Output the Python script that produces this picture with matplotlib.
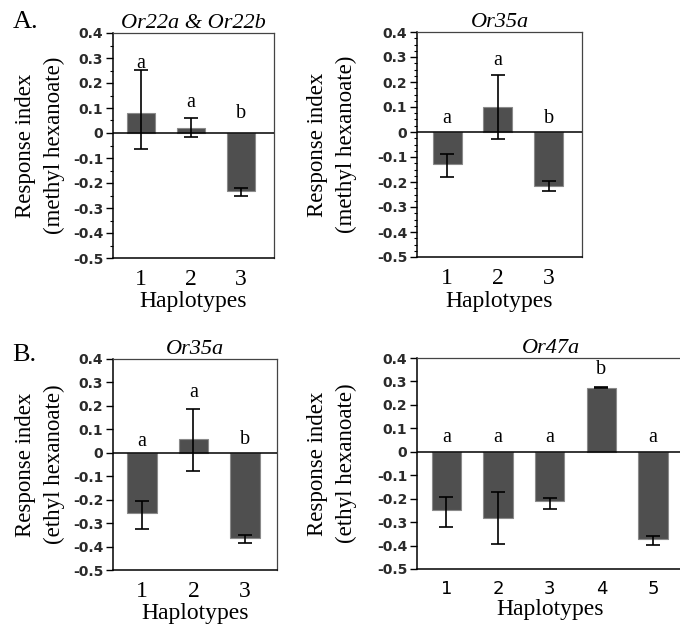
import numpy as np
import matplotlib
matplotlib.use('Agg')
import matplotlib.pyplot as plt
from matplotlib.ticker import MultipleLocator

plt.rcParams['font.family'] = 'Liberation Serif'

# panel A, Or22a & Or22b (methyl hexanoate)
a1_hap = [1, 2, 3]
a1_vals = [0.08, 0.02, -0.23]
a1_err_up = [0.173, 0.04, 0.012]
a1_err_dn = [0.143, 0.036, 0.023]
a1_letters = ['a', 'a', 'b']
a1_letter_y = [0.28, 0.123, 0.08]

# panel A, Or35a (methyl hexanoate)
a2_hap = [1, 2, 3]
a2_vals = [-0.127, 0.10, -0.216]
a2_err_up = [0.04, 0.127, 0.019]
a2_err_dn = [0.053, 0.127, 0.021]
a2_letters = ['a', 'a', 'b']
a2_letter_y = [0.053, 0.287, 0.053]

# panel B, Or35a (ethyl hexanoate)
b1_hap = [1, 2, 3]
b1_vals = [-0.257, 0.057, -0.362]
b1_err_up = [0.05, 0.129, 0.012]
b1_err_dn = [0.067, 0.133, 0.024]
b1_letters = ['a', 'a', 'b']
b1_letter_y = [0.05, 0.257, 0.057]

# panel B, Or47a (ethyl hexanoate)
b2_hap = [1, 2, 3, 4, 5]
b2_vals = [-0.249, -0.282, -0.212, 0.274, -0.372]
b2_err_up = [0.057, 0.11, 0.014, 0.004, 0.013]
b2_err_dn = [0.073, 0.11, 0.03, 0.004, 0.025]
b2_letters = ['a', 'a', 'a', 'b', 'a']
b2_letter_y = [0.06, 0.06, 0.06, 0.352, 0.06]

yticks = [0.4, 0.3, 0.2, 0.1, 0, -0.1, -0.2, -0.3, -0.4, -0.5]
ytick_labels = ['0.4', '0.3', '0.2', '0.1', '0', '-0.1', '-0.2', '-0.3', '-0.4', '-0.5']

W, H = 680, 630
fig = plt.figure(figsize=(W / 100, H / 100), dpi=100)


def px_axes(l, t, r, b):
    return fig.add_axes([l / W, 1 - b / H, (r - l) / W, (b - t) / H])


def panel(ax, hap, vals, up, dn, letters, ly, title, ylab, xlim, minor, sans_x):
    ax.bar(hap, vals, width=0.57, color='#4f4f4f', edgecolor='#8a8a8a', linewidth=0.8, zorder=2)
    ax.errorbar(hap, vals, yerr=[dn, up], fmt='none', ecolor='black', elinewidth=1.2,
                capsize=5, capthick=1.2, zorder=3)
    ax.axhline(0, color='black', lw=1.1, zorder=4)
    for x, y, s in zip(hap, ly, letters):
        ax.text(x, y, s, ha='center', va='center', fontsize=14.5)
    ax.set_xlim(*xlim)
    ax.set_ylim(-0.5, 0.4)
    ax.set_yticks(yticks)
    ax.set_yticklabels(ytick_labels, family='DejaVu Sans', fontsize=10, fontweight='bold',
                       color='#2a2a2a')
    if minor:
        ax.yaxis.set_minor_locator(MultipleLocator(minor))
    ax.tick_params(axis='y', which='major', length=5, width=1, pad=2)
    ax.tick_params(axis='y', which='minor', length=2.5, width=0.8)
    ax.set_xticks(hap)
    if sans_x:
        ax.set_xticklabels([str(h) for h in hap], family='DejaVu Sans', fontsize=13)
    else:
        ax.set_xticklabels([str(h) for h in hap], fontsize=17)
    ax.tick_params(axis='x', length=0, pad=8)
    ax.set_xlabel('Haplotypes', fontsize=17, labelpad=1)
    ax.set_title(title, fontsize=16, style='italic', pad=2)
    ax.set_ylabel(ylab, fontsize=16.5, linespacing=1.45)
    ax.yaxis.label.set_verticalalignment('center')
    for s in ['left', 'bottom']:
        ax.spines[s].set_color('black')
        ax.spines[s].set_linewidth(1.1)
    for s in ['top', 'right']:
        ax.spines[s].set_color('#444444')
        ax.spines[s].set_linewidth(0.9)


ax1 = px_axes(113, 33, 274, 258)
panel(ax1, a1_hap, a1_vals, a1_err_up, a1_err_dn, a1_letters, a1_letter_y,
      'Or22a & Or22b', 'Response index\n(methyl hexanoate)', (0.44, 3.66), 0.05, False)
ax1.yaxis.set_label_coords((40 - 113) / 161, 0.5)

ax2 = px_axes(417, 32, 582, 257)
panel(ax2, a2_hap, a2_vals, a2_err_up, a2_err_dn, a2_letters, a2_letter_y,
      'Or35a', 'Response index\n(methyl hexanoate)', (0.41, 3.65), 0.025, False)
ax2.yaxis.set_label_coords((332 - 417) / 165, 0.5)

ax3 = px_axes(113, 359, 277, 570)
panel(ax3, b1_hap, b1_vals, b1_err_up, b1_err_dn, b1_letters, b1_letter_y,
      'Or35a', 'Response index\n(ethyl hexanoate)', (0.44, 3.62), None, False)
ax3.yaxis.set_label_coords((40 - 113) / 164, 0.5)

ax4 = px_axes(417, 358, 684, 569)
panel(ax4, b2_hap, b2_vals, b2_err_up, b2_err_dn, b2_letters, b2_letter_y,
      'Or47a', 'Response index\n(ethyl hexanoate)', (0.43, 5.6), None, True)
ax4.yaxis.set_label_coords((332 - 417) / 267, 0.5)

fig.text(13 / W, 1 - 22 / H, 'A.', fontsize=19, va='center', ha='left')
fig.text(12 / W, 1 - 355 / H, 'B.', fontsize=19, va='center', ha='left')

fig.savefig('out.png', dpi=100)
